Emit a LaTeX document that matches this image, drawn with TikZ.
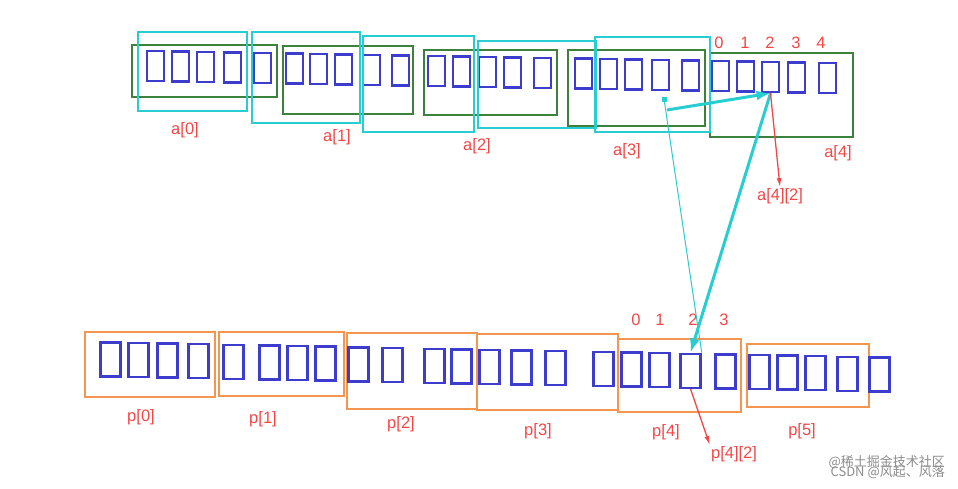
\documentclass[tikz,border=0pt]{standalone}
\usepackage{fontspec}
\setmainfont{Liberation Sans}
\newfontfamily\cjk{Noto Sans CJK SC}
\usetikzlibrary{arrows.meta}
\definecolor{cellblue}{RGB}{60,60,205}
\definecolor{grn}{RGB}{60,130,60}
\definecolor{cyn}{RGB}{40,205,210}
\definecolor{org}{RGB}{245,150,80}
\definecolor{lred}{RGB}{245,70,70}
\begin{document}
\begin{tikzpicture}[x=1pt,y=-1pt,
  cellA/.style={draw=cellblue,line width=2.4pt,minimum width=17pt,minimum height=30pt,inner sep=0pt},
  cellB/.style={draw=cellblue,line width=2.4pt,minimum width=20pt,minimum height=34pt,inner sep=0pt},
  gbox/.style={draw=grn,line width=1.2pt},
  cbox/.style={draw=cyn,line width=2pt},
  obox/.style={draw=org,line width=1.4pt},
  lab/.style={text=lred,font=\fontsize{16.5}{18}\selectfont,inner sep=1pt},
  redarr/.style={draw=lred,line width=1.3pt,-{Latex[length=9pt,width=5pt]}},
  cyarr/.style={draw=cyn,line width=3pt,-{Latex[length=14pt,width=10pt]}}]
\useasboundingbox (0,0) rectangle (958,489);
% green boxes
\draw[gbox] (132,45) rectangle (277,97);
\draw[gbox] (283,46) rectangle (413,114);
\draw[gbox] (424,50) rectangle (557,115);
\draw[gbox] (568,50) rectangle (705,126);
\draw[gbox] (710,53) rectangle (853,137);
% top cells
\foreach \x [count=\i] in {146,171,196,223,253, 285,309,334,362,391, 427,452,478,503,533, 574,599,624,651,681, 711,736,761,787,818}{
  \pgfmathsetmacro\yt{50+(\x-146)*12/672}
  \node[cellA] (t\i) at (\x+9.5,\yt+16) {};
}
% cyan boxes
\draw[cbox] (138,32) rectangle (247,111);
\draw[cbox] (252,32) rectangle (360,123);
\draw[cbox] (363,36) rectangle (474,132);
\draw[cbox] (478,41) rectangle (596,128);
\draw[cbox,line width=2.8pt] (595,37) rectangle (710,132);
% top labels
\node[lab] (la0) at (185,130) {a[0]};
\node[lab] (la1) at (337,137) {a[1]};
\node[lab] (la2) at (477,146) {a[2]};
\node[lab] (la3) at (627,151) {a[3]};
\node[lab] (la4) at (838,153) {a[4]};
\foreach \x/\d in {719/0,745/1,770/2,796/3,821/4} \node[lab] (ia\d) at (\x,43) {\d};
\node[lab] (la42) at (780,196) {a[4][2]};
% bottom boxes
\draw[obox] (85,332) rectangle (215,397);
\draw[obox] (219,332) rectangle (344,396);
\draw[obox] (347,333) rectangle (477,409);
\draw[obox] (477,334) rectangle (618,410);
\draw[obox] (618,339) rectangle (741,412);
\draw[obox] (747,344) rectangle (869,407);
% bottom cells
\foreach \x [count=\i] in {99,127,156,187, 222,258,286,314, 347,381,423,450, 478,510,544, 592,620,648,679,714, 748,776,804,836,868}{
  \pgfmathsetmacro\yt{341+(\x-99)*15/770}
  \node[cellB] (b\i) at (\x+11.5,\yt+18.5) {};
}
\node[lab] (lp0) at (141,417) {p[0]};
\node[lab] (lp1) at (263,419) {p[1]};
\node[lab] (lp2) at (401,424) {p[2]};
\node[lab] (lp3) at (538,431) {p[3]};
\node[lab] (lp4) at (666,432) {p[4]};
\node[lab] (lp5) at (802,431) {p[5]};
\foreach \x/\d in {636/0,660/1,693/2,724/3} \node[lab] (ip\d) at (\x,320) {\d};
\node[lab] (lp42) at (734,454) {p[4][2]};
% arrows
\coordinate (dot) at (664,99);
\fill[cyn] (662,97) rectangle (667,102);
\draw[cyn,line width=1pt] (dot) -- (b19.north east);
\draw[cyarr] (667,110) -- (t23.south);
\draw[cyarr] (t23.south) -- (b19.north);
\draw[redarr] (t23.south) -- (la42.north);
\draw[redarr] (b19.south) -- (lp42.north west);
% watermark
\node[text=black!45,font=\cjk\fontsize{13}{14}\selectfont,anchor=east,inner sep=0pt] (wm1) at (945,462) {@稀土掘金技术社区};
\node[text=black!45,font=\cjk\fontsize{13}{14}\selectfont,anchor=east,inner sep=0pt] (wm2) at (945,472) {CSDN @风起、风落};
\end{tikzpicture}
\end{document}
